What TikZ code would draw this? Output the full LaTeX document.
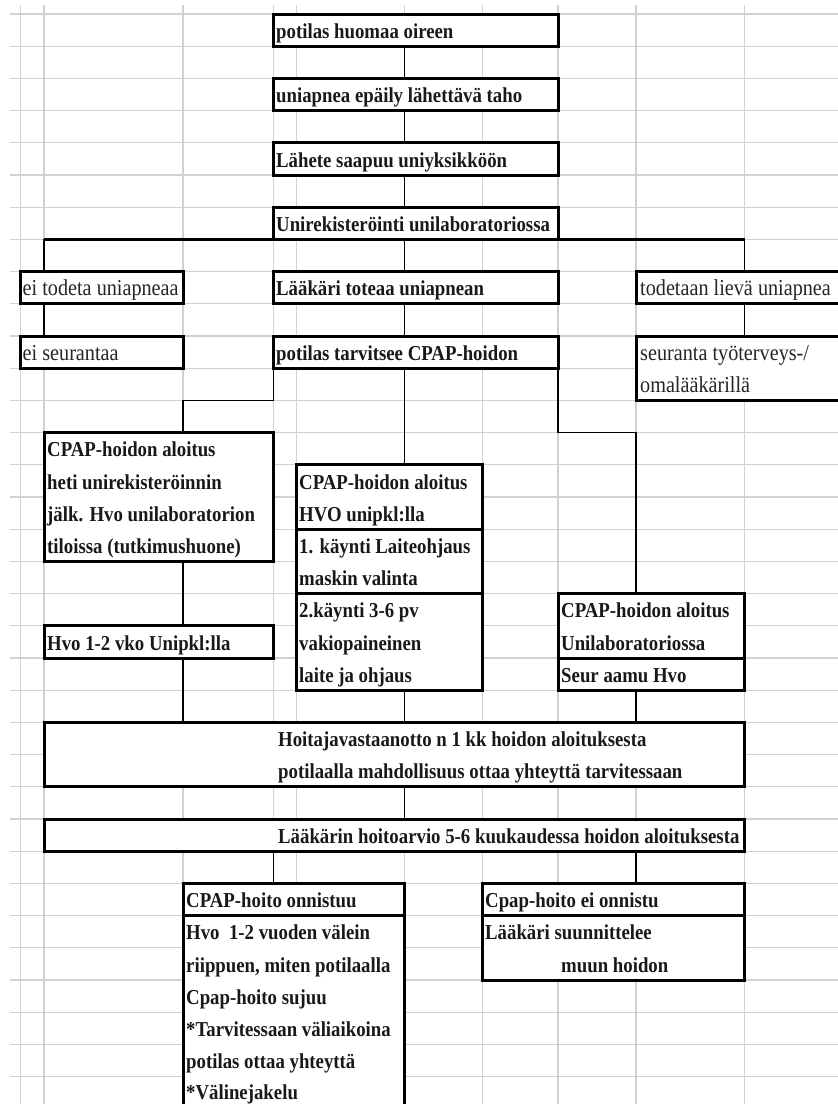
\documentclass[tikz,border=0pt]{standalone}
\usepackage{graphicx}
\usepackage{fontspec}
\setmainfont{Liberation Serif}
\newcommand{\vt}[1]{\scalebox{1}[1.13]{#1}}
\begin{document}
\begin{tikzpicture}[x=1pt,y=-1pt,
  box/.style={draw, fill=white, line width=3pt, inner sep=0pt, outer sep=0pt, anchor=north west, rectangle},
  bt/.style={font=\fontsize{18.8}{22}\selectfont\bfseries, anchor=base west, inner sep=0pt, text=black!90},
  rt/.style={font=\fontsize{20.2}{22}\selectfont, anchor=base west, inner sep=0pt, text=black!85},
  conn/.style={line width=1.4pt},
  barl/.style={line width=2.2pt},
  gridl/.style={draw=black!18, line width=1.1pt}]
\useasboundingbox (0,0) rectangle (838,1104);
\clip (0,0) rectangle (838,1104);
\fill[white] (0,0) rectangle (838,1104);
% spreadsheet grid
\foreach \x in {20.7,44,183,273.5,296.5,404.5,482.5,558,636,744.5}
  \draw[gridl] (\x,5) -- (\x,1104);
\foreach \k in {0,...,34}
  \draw[gridl] (10,{14+32.2*\k}) -- (838,{14+32.2*\k});

% boxes
\node[box, minimum width=284.5pt, minimum height=32.2pt] (A) at (273.5,14) {};
\node[box, minimum width=284.5pt, minimum height=32.2pt] (B) at (273.5,78.4) {};
\node[box, minimum width=284.5pt, minimum height=32.2pt] (C) at (273.5,142.8) {};
\node[box, minimum width=284.5pt, minimum height=32.2pt] (D) at (273.5,207.2) {};
\node[box, minimum width=162.3pt, minimum height=32.2pt] (E) at (20.7,271.6) {};
\node[box, minimum width=284.5pt, minimum height=32.2pt] (F) at (273.5,271.6) {};
\node[box, minimum width=220pt, minimum height=32.2pt] (G) at (636,271.6) {};
\node[box, minimum width=162.3pt, minimum height=32.2pt] (H) at (20.7,336) {};
\node[box, minimum width=284.5pt, minimum height=32.2pt] (I) at (273.5,336) {};
\node[box, minimum width=220pt, minimum height=64.4pt] (J) at (636,336) {};
\node[box, minimum width=229.5pt, minimum height=128.8pt] (K) at (44,432.6) {};
\node[box, minimum width=186pt, minimum height=64.4pt] (L1) at (296.5,464.8) {};
\node[box, minimum width=186pt, minimum height=64.4pt] (L2) at (296.5,529.2) {};
\node[box, minimum width=186pt, minimum height=96.6pt] (L3) at (296.5,593.6) {};
\node[box, minimum width=229.5pt, minimum height=32.2pt] (M) at (44,625.8) {};
\node[box, minimum width=186.5pt, minimum height=64.4pt] (N1) at (558,593.6) {};
\node[box, minimum width=186.5pt, minimum height=32.2pt] (N2) at (558,658) {};
\node[box, minimum width=700.5pt, minimum height=64.4pt] (P) at (44,722.4) {};
\node[box, minimum width=700.5pt, minimum height=32.2pt] (Q) at (44,819) {};
\node[box, minimum width=221.5pt, minimum height=32.2pt] (R1) at (183,883.4) {};
\node[box, minimum width=221.5pt, minimum height=193.2pt] (R2) at (183,915.6) {};
\node[box, minimum width=262pt, minimum height=32.2pt] (S1) at (482.5,883.4) {};
\node[box, minimum width=262pt, minimum height=64.4pt] (S2) at (482.5,915.6) {};

% helper coordinates for connector columns
\coordinate (mid) at (404.5,0);
\coordinate (bl) at (44,239.4);
\coordinate (br) at (744.5,239.4);
\coordinate (k1) at (183,400.4);
\coordinate (k2) at (636,432.6);
\coordinate (k3) at (273.5,867);

% connectors
\draw[conn] (A.south -| mid) -- (B.north -| mid);
\draw[conn] (B.south -| mid) -- (C.north -| mid);
\draw[conn] (C.south -| mid) -- (D.north -| mid);
\draw[barl] (bl) -- (br);
\draw[conn] (bl) -- (bl |- E.north);
\draw[conn] (D.south -| mid) -- (F.north -| mid);
\draw[conn] (br) -- (br |- G.north);
\draw[conn] (E.south -| bl) -- (H.north -| bl);
\draw[conn] (F.south -| mid) -- (I.north -| mid);
\draw[conn] (G.south -| br) -- (J.north -| br);
\draw[conn] (I.south west) |- (k1) -- (k1 |- K.north);
\draw[conn] (I.south -| mid) -- (L1.north -| mid);
\draw[conn] (I.south east) |- (k2) -- (k2 |- N1.north);
\draw[conn] (K.south -| k1) -- (M.north -| k1);
\draw[conn] (M.south -| k1) -- (P.north -| k1);
\draw[conn] (L3.south -| mid) -- (P.north -| mid);
\draw[conn] (N2.south -| k2) -- (P.north -| k2);
\draw[conn] (P.south -| mid) -- (Q.north -| mid);
\draw[conn] (Q.south -| k3) -- (R1.north -| k3);
\draw[conn] (Q.south -| k2) -- (S1.north -| k2);

% texts
\node[bt] (tA) at (276,38.2) {\vt{potilas huomaa oireen}};
\node[bt] (tB) at (276,102.6) {\vt{uniapnea epäily lähettävä taho}};
\node[bt] (tC) at (276,167) {\vt{Lähete saapuu uniyksikköön}};
\node[bt] (tD) at (276,231.4) {\vt{Unirekisteröinti unilaboratoriossa}};
\node[rt] (tE) at (22.5,295.8) {\vt{ei todeta uniapneaa}};
\node[bt] (tF) at (276,295.8) {\vt{Lääkäri toteaa uniapnean}};
\node[rt] (tG) at (640,295.8) {\vt{todetaan lievä uniapnea}};
\node[rt] (tH) at (22.5,360.2) {\vt{ei seurantaa}};
\node[bt] (tI) at (276,360.2) {\vt{potilas tarvitsee CPAP-hoidon}};
\node[rt] (tJ1) at (640,360.2) {\vt{seuranta työterveys-/}};
\node[rt] (tJ2) at (640,392.4) {\vt{omalääkärillä}};
\node[bt] (tK1) at (47,456.8) {\vt{CPAP-hoidon aloitus}};
\node[bt] (tK2) at (47,489) {\vt{heti unirekisteröinnin}};
\node[bt] (tK3) at (47,521.2) {\vt{jälk. Hvo unilaboratorion}};
\node[bt] (tK4) at (47,553.4) {\vt{tiloissa (tutkimushuone)}};
\node[bt] (tL1) at (299,489) {\vt{CPAP-hoidon aloitus}};
\node[bt] (tL2) at (299,521.2) {\vt{HVO unipkl:lla}};
\node[bt] (tL3) at (299,553.4) {\vt{1. käynti Laiteohjaus}};
\node[bt] (tL4) at (299,585.6) {\vt{maskin valinta}};
\node[bt] (tL5) at (299,617.8) {\vt{2.käynti 3-6 pv}};
\node[bt] (tL6) at (299,650) {\vt{vakiopaineinen}};
\node[bt] (tL7) at (299,682.2) {\vt{laite ja ohjaus}};
\node[bt] (tM) at (47,650) {\vt{Hvo 1-2 vko Unipkl:lla}};
\node[bt] (tN1) at (561,617.8) {\vt{CPAP-hoidon aloitus}};
\node[bt] (tN2) at (561,650) {\vt{Unilaboratoriossa}};
\node[bt] (tN3) at (561,682.2) {\vt{Seur aamu Hvo}};
\node[bt] (tP1) at (278,746.6) {\vt{Hoitajavastaanotto n 1 kk hoidon aloituksesta}};
\node[bt] (tP2) at (278,778.8) {\vt{potilaalla mahdollisuus ottaa yhteyttä tarvitessaan}};
\node[bt] (tQ) at (278,843.2) {\vt{Lääkärin hoitoarvio 5-6 kuukaudessa hoidon aloituksesta}};
\node[bt] (tR1) at (186,907.6) {\vt{CPAP-hoito onnistuu}};
\node[bt] (tR2) at (186,939.8) {\vt{Hvo~~1-2 vuoden välein}};
\node[bt] (tR3) at (186,972) {\vt{riippuen, miten potilaalla}};
\node[bt] (tR4) at (186,1004.2) {\vt{Cpap-hoito sujuu}};
\node[bt] (tR5) at (186,1036.4) {\vt{*Tarvitessaan väliaikoina}};
\node[bt] (tR6) at (186,1068.6) {\vt{potilas ottaa yhteyttä}};
\node[bt] (tR7) at (186,1099.5) {\vt{*Välinejakelu}};
\node[bt] (tS1) at (485,907.6) {\vt{Cpap-hoito ei onnistu}};
\node[bt] (tS2) at (485,939.8) {\vt{Lääkäri suunnittelee}};
\node[bt] (tS3) at (561,972) {\vt{muun hoidon}};
\end{tikzpicture}
\end{document}
